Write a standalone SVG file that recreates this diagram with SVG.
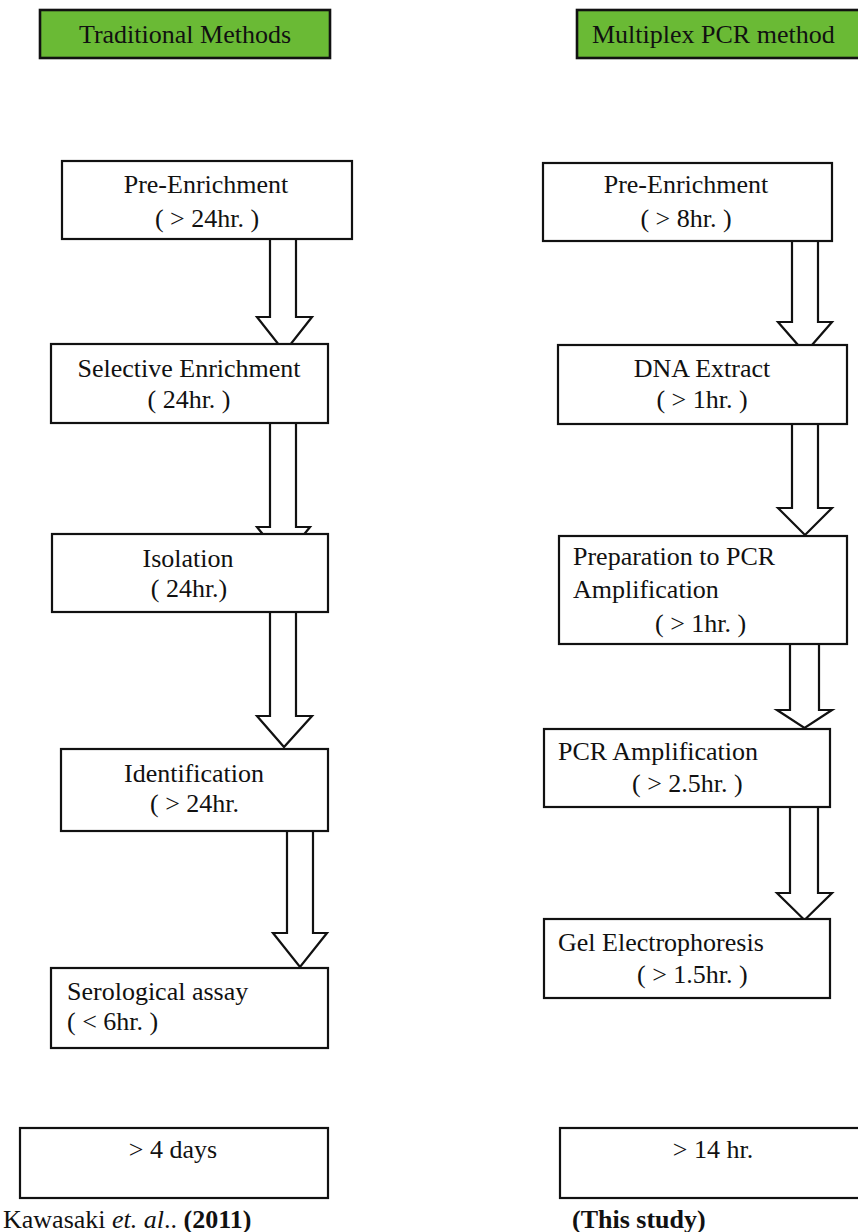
<svg xmlns="http://www.w3.org/2000/svg" width="858" height="1232" viewBox="0 0 858 1232">
<style>
text{font-family:"Liberation Serif","Times New Roman",serif;font-size:26px;fill:#111}
.c{text-anchor:middle}
.box{fill:#fff;stroke:#111;stroke-width:2.2}
.hdr{fill:#6aba35;stroke:#111;stroke-width:2.6}
.arr{fill:#fff;stroke:#111;stroke-width:2.2;stroke-linejoin:miter}
</style>
<rect width="858" height="1232" fill="#fff"/>
<g id="connectors">
<polygon class="arr" points="270,239 270,317 257,317 284.5,352 312,317 296,317 296,239"/>
<polygon class="arr" points="270,423 270,527 257,527 283.5,560 310,527 296,527 296,423"/>
<polygon class="arr" points="270,612 270,716 257,716 284,747 312,716 296,716 296,612"/>
<polygon class="arr" points="287,831 287,933 273,933 300,967 327,933 313,933 313,831"/>
<polygon class="arr" points="792,241 792,322 778,322 805,353 832,322 818,322 818,241"/>
<polygon class="arr" points="792,424 792,508 778,508 805,535 832,508 818,508 818,424"/>
<polygon class="arr" points="790,644 790,710 777,710 804.5,728 832,710 819,710 819,644"/>
<polygon class="arr" points="790,807 790,893 777,893 804.5,920 832,893 818,893 818,807"/>
</g>
<g id="hdr-traditional">
<rect class="hdr" x="40" y="10" width="290" height="48"/>
<text class="c" x="185" y="43">Traditional Methods</text>
</g>
<g id="hdr-multiplex">
<rect class="hdr" x="577" y="10" width="290" height="48"/>
<text x="592" y="43">Multiplex PCR method</text>
</g>
<g id="l1">
<rect class="box" x="62" y="161" width="290" height="78"/>
<text class="c" x="206" y="193">Pre-Enrichment</text>
<text class="c" x="207" y="227">( &gt; 24hr. )</text>
</g>
<g id="l2">
<rect class="box" x="51" y="344" width="277" height="79"/>
<text class="c" x="189" y="377">Selective Enrichment</text>
<text class="c" x="189" y="408">( 24hr. )</text>
</g>
<g id="l3">
<rect class="box" x="52" y="534" width="276" height="78"/>
<text class="c" x="188" y="567">Isolation</text>
<text class="c" x="189" y="597">( 24hr.)</text>
</g>
<g id="l4">
<rect class="box" x="61" y="749" width="267" height="82"/>
<text class="c" x="194" y="782">Identification</text>
<text x="150" y="812">( &gt; 24hr.</text>
</g>
<g id="l5">
<rect class="box" x="51" y="968" width="277" height="80"/>
<text x="67" y="1000">Serological assay</text>
<text x="67" y="1030">( &lt; 6hr. )</text>
</g>
<g id="l-total">
<rect class="box" x="20" y="1128" width="308" height="70"/>
<text class="c" x="173" y="1158">&gt; 4 days</text>
</g>
<g id="l-ref">
<text x="3" y="1228">Kawasaki <tspan font-style="italic">et. al</tspan>.. <tspan font-weight="bold">(2011)</tspan></text>
</g>
<g id="r1">
<rect class="box" x="543" y="163" width="289" height="78"/>
<text class="c" x="686" y="193">Pre-Enrichment</text>
<text class="c" x="686" y="227">( &gt; 8hr. )</text>
</g>
<g id="r2">
<rect class="box" x="558" y="345" width="289" height="79"/>
<text class="c" x="702" y="377">DNA Extract</text>
<text class="c" x="702" y="408">( &gt; 1hr. )</text>
</g>
<g id="r3">
<rect class="box" x="559" y="536" width="288" height="108"/>
<text x="573" y="565">Preparation to PCR</text>
<text x="573" y="598">Amplification</text>
<text x="655" y="632">( &gt; 1hr. )</text>
</g>
<g id="r4">
<rect class="box" x="544" y="729" width="286" height="78"/>
<text x="558" y="760">PCR Amplification</text>
<text x="632" y="792">( &gt; 2.5hr. )</text>
</g>
<g id="r5">
<rect class="box" x="544" y="919" width="286" height="79"/>
<text x="558" y="951">Gel Electrophoresis</text>
<text x="637" y="983">( &gt; 1.5hr. )</text>
</g>
<g id="r-total">
<rect class="box" x="560" y="1128" width="310" height="70"/>
<text class="c" x="713" y="1158">&gt; 14 hr.</text>
</g>
<g id="r-ref">
<text x="572" y="1228" font-weight="bold">(This study)</text>
</g>
</svg>
